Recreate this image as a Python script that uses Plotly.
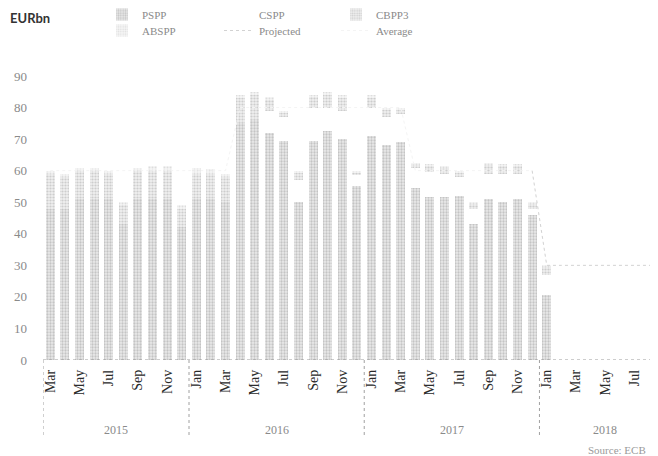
import plotly.graph_objects as go
import pandas as pd

# ---------------- data ----------------
months = pd.date_range("2015-03-01", "2018-09-01", freq="MS")
month_labels = [d.strftime("%b") for d in months]
years = [d.year for d in months]

# Monthly purchases (EUR bn), Mar 2015 .. Jan 2018
pspp = [48, 48, 51, 51, 51, 43, 51, 51, 51, 42,
        51, 51, 50, 75, 76, 72, 69.5, 50, 69.5, 72.7, 70, 55,
        71, 68, 69, 54.5, 51.5, 51.5, 52, 43, 51, 50, 51, 46,
        20.5]
cspp = [0, 0, 0, 0, 0, 0, 0, 0, 0, 0,
        0, 0, 0, 0, 0, 7, 7.5, 7, 10.5, 7.3, 9, 3.5,
        9, 9, 9, 6.5, 8, 7.5, 6, 5, 8, 9, 8, 2,
        6.5]
cbpp3 = [11, 10, 9, 9, 8, 6, 9, 9, 9, 6,
         8, 8, 8, 8, 8, 3.5, 1.5, 2.5, 3.5, 4, 4, 1,
         3, 2.5, 1.5, 1, 2, 2, 1.5, 1.5, 3, 2.5, 2.5, 1.5,
         2.5]
abspp = [1, 1, 1, 1, 1, 1, 1, 1.5, 1.5, 1,
         2, 1.5, 1, 1, 1, 1, 0.5, 0.5, 0.5, 1, 1, 0.5,
         1, 0.5, 0.5, 0.5, 0.5, 0.5, 0.5, 0.5, 0.5, 0.5, 0.5, 0.5,
         0.5]
# Projected purchases: Dec 2017 .. Sep 2018
projected = [60, 30, 30, 30, 30, 30, 30, 30, 30, 30]
projected_start = 33
# Average (programme monthly pace): Mar 2015 .. Dec 2017
average = [60] * 13 + [80] * 12 + [60] * 9

x_bars = list(range(len(pspp)))
x_proj = list(range(projected_start, projected_start + len(projected)))
x_avg = list(range(len(average)))

SERIF = "Liberation Serif"
GREY = "#8a8a8a"

W, H = 650, 448
L, T, B = 35, 68, 96
PH = H - T - B          # plot height in px
PW = W - L              # plot width in px

fig = go.Figure()

def pat(fg, bg, size=3, sol=0.45):
    return dict(shape=".", fgcolor=fg, bgcolor=bg, size=size, solidity=sol)

fig.add_trace(go.Bar(x=x_bars, y=pspp, name="PSPP", legend="legend",
                     marker=dict(color="#e0e0e0", line=dict(width=0),
                                 pattern=pat("#9e9e9e", "#eaeaea", 3, 0.45))))
fig.add_trace(go.Bar(x=x_bars, y=cspp, name="CSPP", legend="legend",
                     marker=dict(color="#ffffff", line=dict(width=0))))
fig.add_trace(go.Bar(x=x_bars, y=cbpp3, name="CBPP3", legend="legend",
                     marker=dict(color="#eeeeee", line=dict(width=0),
                                 pattern=pat("#ababab", "#efefef", 3, 0.42))))
fig.add_trace(go.Bar(x=x_bars, y=abspp, name="ABSPP", legend="legend2",
                     marker=dict(color="#f2f2f2", line=dict(width=0),
                                 pattern=pat("#c4c4c4", "#f6f6f6", 3, 0.35))))
fig.add_trace(go.Scatter(x=x_proj, y=projected, name="Projected", legend="legend2",
                         mode="lines", line=dict(color="#d2d2d2", width=1, dash="dot")))
fig.add_trace(go.Scatter(x=x_avg, y=average, name="Average", legend="legend2",
                         mode="lines", line=dict(color="#f4f4f4", width=1, dash="dot")))

# ---------------- decorations ----------------
shapes = []
shapes.append(dict(type="line", xref="paper", yref="y", x0=0, x1=1, y0=0, y1=0,
                   line=dict(color="#9a9a9a", width=1, dash="dot")))
year_starts = [0] + [i for i in range(1, len(months)) if years[i] != years[i - 1]]
for s in year_starts:
    shapes.append(dict(type="line", xref="x", yref="paper", x0=s - 0.5, x1=s - 0.5,
                       y0=0, y1=-77 / PH, line=dict(color="#a0a0a0", width=1, dash="dot")))

for yv in sorted(set(years)):
    idx = [i for i, v in enumerate(years) if v == yv]
    fig.add_annotation(x=(idx[0] + idx[-1]) / 2, y=-70 / PH, xref="x", yref="paper",
                       yanchor="middle", text=str(yv), showarrow=False,
                       font=dict(family=SERIF, size=12, color=GREY))

fig.add_annotation(xref="paper", yref="paper", x=-L / PW, y=1 + 58 / PH,
                   xanchor="left", yanchor="middle", text="<b>EURbn</b>", showarrow=False,
                   font=dict(family="Lato", size=13, color="#333333"))
fig.add_annotation(xref="paper", yref="paper", x=1 - 10 / PW, y=-90 / PH, xanchor="right",
                   yanchor="middle", text="Source: ECB", showarrow=False,
                   font=dict(family=SERIF, size=11, color="#9a9a9a"))

tickvals = list(range(0, len(months), 2))
ticktext = [month_labels[i] for i in tickvals]

legend_common = dict(orientation="h", xref="paper", yref="paper",
                     xanchor="left", yanchor="top",
                     entrywidth=72, entrywidthmode="pixels", bgcolor="rgba(0,0,0,0)",
                     font=dict(family=SERIF, size=11, color=GREY), traceorder="normal")

fig.update_layout(
    width=W, height=H,
    margin=dict(l=L, r=0, t=T, b=B, autoexpand=False),
    paper_bgcolor="white", plot_bgcolor="white",
    barmode="stack", bargap=0.38,
    showlegend=True,
    shapes=shapes,
    xaxis=dict(range=[-0.5, 41.62], tickmode="array", tickvals=tickvals, ticktext=ticktext,
               tickangle=-90, showgrid=False, zeroline=False, showline=False, ticks="",
               tickfont=dict(family=SERIF, size=14, color="#2a2a2a"), ticklabelstandoff=6),
    yaxis=dict(range=[0, 90], tickvals=list(range(0, 91, 10)), showgrid=False,
               zeroline=False, showline=False, ticks="",
               tickfont=dict(family=SERIF, size=13, color=GREY), ticklabelstandoff=15),
    legend=dict(legend_common, x=(94 - L) / PW, y=1 + (T + 8) / PH),
    legend2=dict(legend_common, x=(94 - L) / PW, y=1 + (T - 8) / PH),
)

fig.write_html("out.html")
